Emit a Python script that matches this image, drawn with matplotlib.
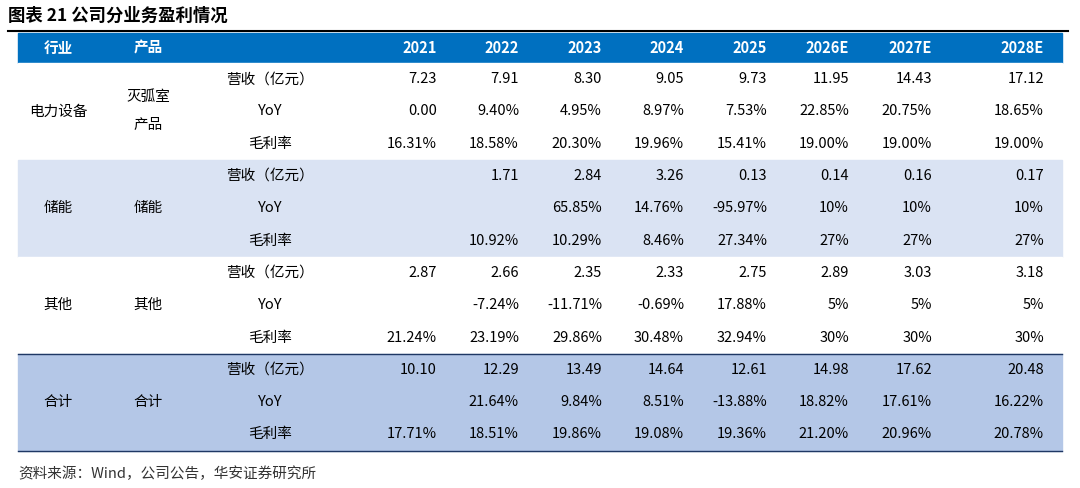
import matplotlib.pyplot as plt
from matplotlib.patches import Rectangle

plt.rcParams['font.family'] = ['Noto Sans CJK SC', 'DejaVu Sans']

title = "图表 21 公司分业务盈利情况"
source = "资料来源：Wind，公司公告，华安证券研究所"
years = ["2021", "2022", "2023", "2024", "2025", "2026E", "2027E", "2028E"]
metrics = ["营收（亿元）", "YoY", "毛利率"]
industries = ["电力设备", "储能", "其他", "合计"]
products = ["灭弧室\n\n产品", "储能", "其他", "合计"]

power = [["7.23", "7.91", "8.30", "9.05", "9.73", "11.95", "14.43", "17.12"],
         ["0.00", "9.40%", "4.95%", "8.97%", "7.53%", "22.85%", "20.75%", "18.65%"],
         ["16.31%", "18.58%", "20.30%", "19.96%", "15.41%", "19.00%", "19.00%", "19.00%"]]
storage = [["", "1.71", "2.84", "3.26", "0.13", "0.14", "0.16", "0.17"],
           ["", "", "65.85%", "14.76%", "-95.97%", "10%", "10%", "10%"],
           ["", "10.92%", "10.29%", "8.46%", "27.34%", "27%", "27%", "27%"]]
other = [["2.87", "2.66", "2.35", "2.33", "2.75", "2.89", "3.03", "3.18"],
         ["", "-7.24%", "-11.71%", "-0.69%", "17.88%", "5%", "5%", "5%"],
         ["21.24%", "23.19%", "29.86%", "30.48%", "32.94%", "30%", "30%", "30%"]]
total = [["10.10", "12.29", "13.49", "14.64", "12.61", "14.98", "17.62", "20.48"],
         ["", "21.64%", "9.84%", "8.51%", "-13.88%", "18.82%", "17.61%", "16.22%"],
         ["17.71%", "18.51%", "19.86%", "19.08%", "19.36%", "21.20%", "20.96%", "20.78%"]]
sections = [power, storage, other, total]
fills = ["white", "#DAE3F3", "white", "#B4C7E7"]

fig = plt.figure(figsize=(10.8, 4.88), dpi=100)
ax = fig.add_axes([0, 0, 1, 1])
ax.set_xlim(0, 1080)
ax.set_ylim(488, 0)
ax.axis('off')

x_ind, x_prod, x_met = 58, 148, 270
x_cols = [437, 519, 602, 684, 767, 849, 932, 1044]
left, right = 18, 1062

ax.text(8, 16, title, fontsize=12.5, fontweight='bold', va='center', ha='left')
ax.plot([8, 1068], [31, 31], color='black', lw=1.5)

ax.add_patch(Rectangle((left, 33), right - left, 30, color='#0070C0'))
ax.text(x_ind, 48, "行业", color='white', fontsize=10.5, fontweight='bold', ha='center', va='center')
ax.text(x_prod, 48, "产品", color='white', fontsize=10.5, fontweight='bold', ha='center', va='center')
for x, y in zip(x_cols, years):
    ax.text(x, 48, y, color='white', fontsize=10.5, fontweight='bold', ha='right', va='center')

row_h = 32.3
top = 63
for s, data in enumerate(sections):
    y0 = top + s * 3 * row_h
    ax.add_patch(Rectangle((left, y0), right - left, 3 * row_h, color=fills[s]))
    ymid = y0 + 1.5 * row_h
    ax.text(x_ind, ymid, industries[s], fontsize=10.5, ha='center', va='center')
    ax.text(x_prod, ymid, products[s], fontsize=10.5, ha='center', va='center', linespacing=1.0)
    for r, m in enumerate(metrics):
        yr = y0 + (r + 0.5) * row_h
        ax.text(x_met, yr, m, fontsize=10.5, ha='center', va='center')
        for x, v in zip(x_cols, data[r]):
            ax.text(x, yr, v, fontsize=10.5, ha='right', va='center')
    if s == 3:
        ax.plot([left, right], [y0, y0], color='#1F3864', lw=1)
end = top + 12 * row_h
ax.plot([left, right], [end, end], color='#1F3864', lw=1)

ax.text(18, 474, source, fontsize=10.5, ha='left', va='center', color='#333333')

fig.savefig("out.png", dpi=100)
